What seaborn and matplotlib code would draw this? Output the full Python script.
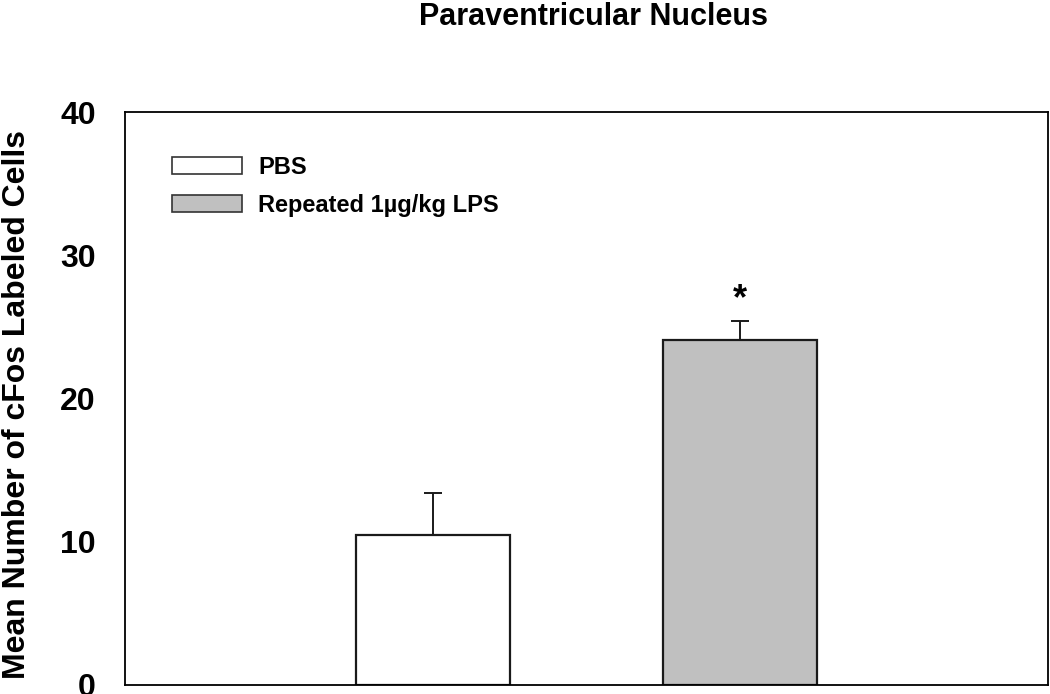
import matplotlib
matplotlib.use("Agg")
from matplotlib import pyplot as plt
from matplotlib.patches import Patch
import pandas as pd
import seaborn as sns

# values
groups = ["PBS", "Repeated 1\u00b5g/kg LPS"]
means = [10.5, 24.1]
sem = [2.9, 1.3]
bar_colors = ["#ffffff", "#c0c0c0"]
yticks = [0, 10, 20, 30, 40]

df = pd.DataFrame({"group": groups, "mean": means})

sns.set_style("white")
plt.rcParams['font.family'] = ['Liberation Sans', 'DejaVu Sans']
plt.rcParams['font.weight'] = 'bold'
plt.rcParams['text.color'] = 'black'
plt.rcParams['axes.labelcolor'] = 'black'
plt.rcParams['ytick.color'] = 'black'

fig = plt.figure(figsize=(10.5, 6.94), dpi=100)
ax = fig.add_axes([0.119, 0.013, 0.879, 0.8256])

sns.barplot(data=df, x="group", y="mean", hue="group", order=groups,
            palette=dict(zip(groups, bar_colors)), width=0.5,
            edgecolor="#1a1a1a", linewidth=1.6, legend=False, ax=ax)

# upper error bars only
ax.errorbar([0, 1], means, yerr=[[0, 0], sem], fmt="none", ecolor="#1a1a1a",
            elinewidth=1.4, capsize=6.5, capthick=1.4)

ax.text(1, 25.65, "*", ha="center", va="bottom", fontsize=26, fontweight="bold")

ax.set_xlim(-1, 2)
ax.set_ylim(0, 40)
ax.set_yticks(yticks)
ax.set_yticklabels([str(t) for t in yticks], fontsize=23, fontweight="bold")
ax.set_xticks([0.5])
ax.set_xticklabels([""])
ax.tick_params(axis="x", direction="in", length=3, width=1, color="black")
ax.tick_params(axis="y", direction="out", length=7, width=1.0, color="black", pad=14)
ax.set_xlabel("")
ax.set_ylabel("Mean Number of cFos Labeled Cells", fontsize=23, fontweight="bold")
ax.yaxis.set_label_coords(-0.1175, 0.489)
ax.yaxis.label.set_va("center")
for s in ax.spines.values():
    s.set_visible(True)
    s.set_color("black")
    s.set_linewidth(1.3)

fig.text(0.565, 0.997, "Paraventricular Nucleus", ha="center", va="top",
         fontsize=22, fontweight="bold")

handles = [Patch(facecolor=c, edgecolor="#333333", linewidth=1.2) for c in bar_colors]
ax.legend(handles, groups, loc="upper left", bbox_to_anchor=(0.051, 0.924),
          frameon=False, handlelength=2.97, handleheight=0.72,
          handletextpad=0.68, labelspacing=0.64, borderpad=0, borderaxespad=0,
          prop={"weight": "bold", "size": 17})

fig.savefig("out.png", dpi=100)
